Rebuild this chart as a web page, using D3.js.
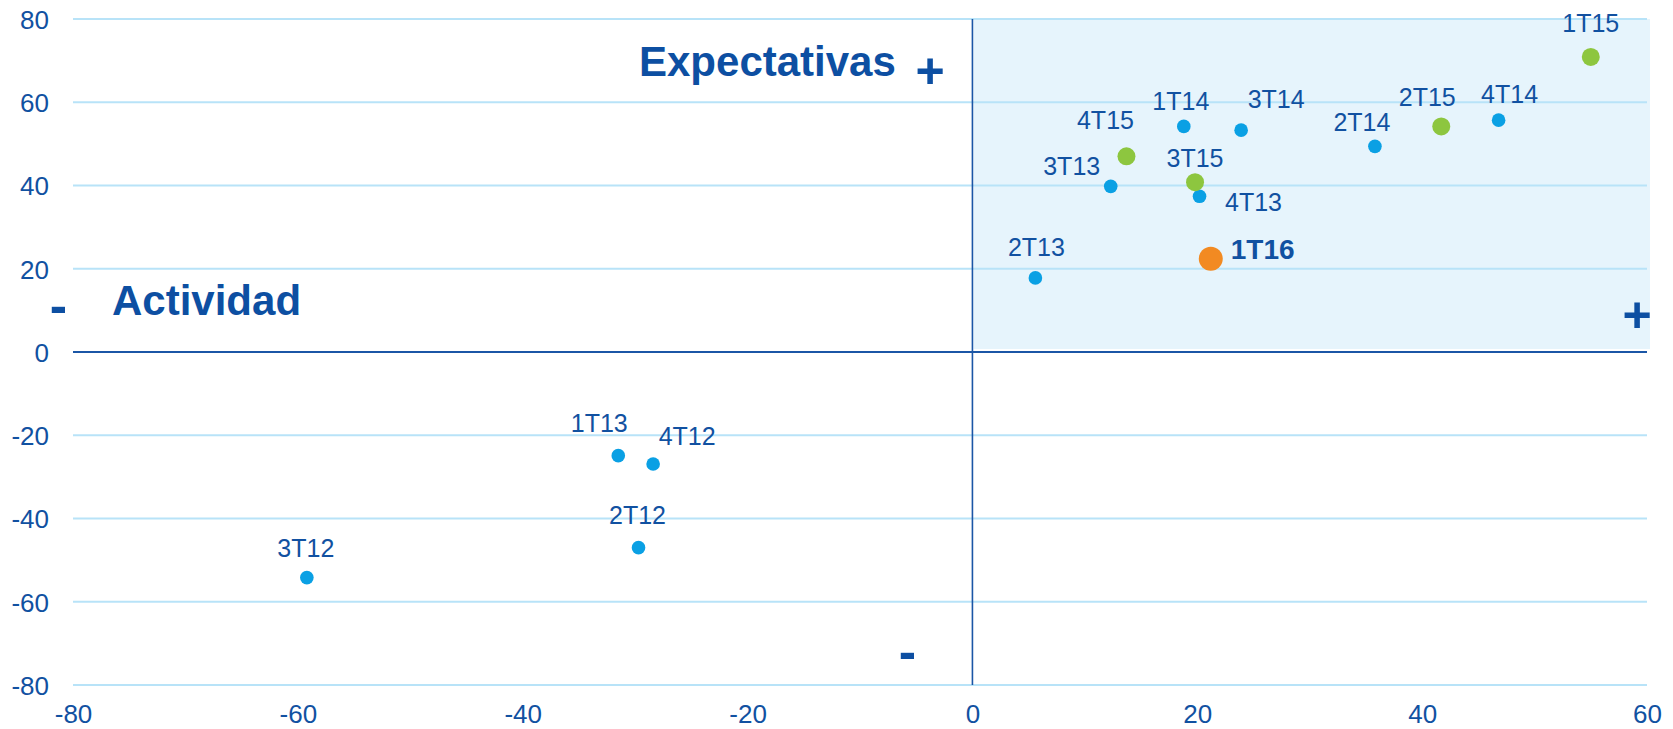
<!DOCTYPE html>
<html>
<head>
<meta charset="utf-8">
<script src="https://cdn.jsdelivr.net/npm/d3@7"></script>
<style>
  html, body { margin: 0; padding: 0; background: #fff; }
  svg { display: block; font-family: "Liberation Sans", Arial, sans-serif; }
</style>
</head>
<body>
<svg id="chart" width="1673" height="729"></svg>
<script>
// ---- data ----
const periods = ["3T12","2T12","4T12","1T13","2T13","3T13","4T13","1T14","2T14","3T14","4T14","1T15","2T15","3T15","4T15","1T16"];
const actividad = [-59.2,-29.7,-28.4,-31.5,5.6,12.3,20.2,18.8,35.8,23.9,46.8,55.0,41.7,19.8,13.7,21.2];
const expectativas = [-54.2,-47.0,-26.9,-24.9,17.8,39.8,37.4,54.2,49.4,53.3,55.7,70.9,54.2,40.8,47.0,22.4];
const group = ["hist","hist","hist","hist","hist","hist","hist","hist","hist","hist","hist","y2015","y2015","y2015","y2015","current"];
const xTicks = [-80,-60,-40,-20,0,20,40,60];
const yTicks = [-80,-60,-40,-20,0,20,40,60,80];
const xTickLabels = ["-80","-60","-40","-20","0","20","40","60"];
const yTickLabels = ["-80","-60","-40","-20","0","20","40","60","80"];

// ---- layout (label placement relative to each point, in px) ----
const labelOffsets = [[-1,-21],[-1,-24],[34,-19],[-19,-24],[1,-22],[-39,-11],[54,15],[-3,-16],[-13,-15],[35,-22],[11,-17],[0,-25],[-14,-20],[0,-15],[-21,-27],[20,0]];

const TEXT = "#1151a1";
const colors = { hist: "#0aa0e4", y2015: "#8dc63f", current: "#f28a22" };
const radius = { hist: 6.8, y2015: 9, current: 12 };

const svg = d3.select("#chart");
const x = d3.scaleLinear().domain([-80, 60]).range([73, 1647]);
const y = d3.scaleLinear().domain([-80, 80]).range([685, 19]);

// shaded quadrant
svg.append("rect")
  .attr("x", x(0) + 1).attr("y", y(80))
  .attr("width", x(60) - x(0) + 2).attr("height", y(0) - y(80) - 3)
  .attr("fill", "#e6f4fc");

// horizontal gridlines
svg.append("g").selectAll("line")
  .data(yTicks.filter(d => d !== 0))
  .join("line")
  .attr("x1", x(-80)).attr("x2", x(60))
  .attr("y1", d => y(d)).attr("y2", d => y(d))
  .attr("stroke", "#b8e3f8").attr("stroke-width", 2);

// zero lines
svg.append("line")
  .attr("x1", x(-80)).attr("x2", x(60))
  .attr("y1", y(0)).attr("y2", y(0))
  .attr("stroke", "#1b56a6").attr("stroke-width", 2);
svg.append("line")
  .attr("x1", x(0)).attr("x2", x(0))
  .attr("y1", y(80)).attr("y2", y(-80))
  .attr("stroke", "#1b56a6").attr("stroke-width", 1.6);

// axes
const xAxis = svg.append("g")
  .attr("transform", `translate(0,${y(-80)})`)
  .call(d3.axisBottom(x).tickValues(xTicks).tickSize(0).tickPadding(24)
    .tickFormat((d, i) => xTickLabels[i]));
const yAxis = svg.append("g")
  .attr("transform", `translate(${x(-80)},0)`)
  .call(d3.axisLeft(y).tickValues(yTicks).tickSize(0).tickPadding(24)
    .tickFormat((d, i) => yTickLabels[i]));
[xAxis, yAxis].forEach(a => {
  a.select(".domain").remove();
  a.selectAll("text")
    .attr("fill", TEXT)
    .style("font-size", "26px")
    .style("font-family", "'Liberation Sans', Arial, sans-serif");
});
xAxis.selectAll("text").attr("dy", null).attr("y", 38);
yAxis.selectAll("text").attr("dy", "0.36em");

// points
const pts = periods.map((p, i) => ({ p, x: actividad[i], y: expectativas[i], g: group[i], off: labelOffsets[i] }));
const order = { hist: 0, y2015: 1, current: 2 };
svg.append("g").selectAll("circle")
  .data(pts.slice().sort((a, b) => order[a.g] - order[b.g]))
  .join("circle")
  .attr("cx", d => x(d.x)).attr("cy", d => y(d.y))
  .attr("r", d => radius[d.g])
  .attr("fill", d => colors[d.g]);

// point labels
svg.append("g").selectAll("text")
  .data(pts)
  .join("text")
  .attr("x", d => x(d.x) + d.off[0])
  .attr("y", d => y(d.y) + d.off[1])
  .attr("text-anchor", d => d.g === "current" ? "start" : "middle")
  .attr("fill", TEXT)
  .style("font-size", d => d.g === "current" ? "28px" : "25px")
  .style("font-weight", d => d.g === "current" ? "bold" : "normal")
  .text(d => d.p);

// quadrant annotations
const ann = svg.append("g").attr("fill", "#0d4fa2").style("font-weight", "bold");
ann.append("text").attr("x", 639).attr("y", 76).style("font-size", "42px").text("Expectativas");
ann.append("text").attr("x", 112).attr("y", 315).style("font-size", "42px").text("Actividad");
ann.append("text").attr("x", 930).attr("y", 88).attr("text-anchor", "middle").style("font-size", "50px").text("+");
ann.append("text").attr("x", 1637).attr("y", 332).attr("text-anchor", "middle").style("font-size", "50px").text("+");
ann.append("text").attr("x", 58.5).attr("y", 323).attr("text-anchor", "middle").style("font-size", "52px").text("-");
ann.append("text").attr("x", 907.5).attr("y", 669).attr("text-anchor", "middle").style("font-size", "52px").text("-");
</script>
</body>
</html>
